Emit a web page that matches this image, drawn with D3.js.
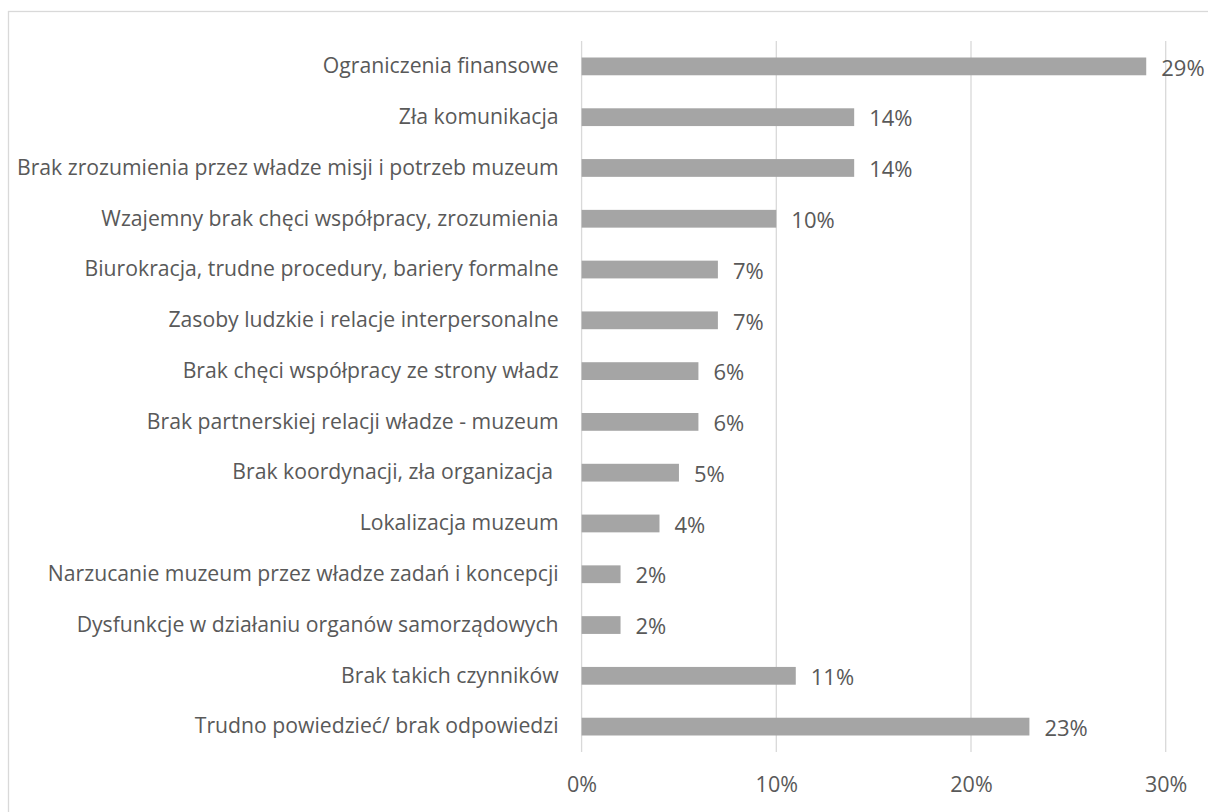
<!DOCTYPE html>
<html>
<head>
<meta charset="utf-8">
<script src="https://cdn.jsdelivr.net/npm/d3@7"></script>
<style>
  body { margin: 0; background: #fff; }
  svg text { font-family: "Open Sans", sans-serif; fill: #595959; white-space: pre; }
</style>
</head>
<body>
<div id="chart"></div>
<script>
// dane
var categories = [
  "Ograniczenia finansowe",
  "Zła komunikacja",
  "Brak zrozumienia przez władze misji i potrzeb muzeum",
  "Wzajemny brak chęci współpracy, zrozumienia",
  "Biurokracja, trudne procedury, bariery formalne",
  "Zasoby ludzkie i relacje interpersonalne",
  "Brak chęci współpracy ze strony władz",
  "Brak partnerskiej relacji władze - muzeum",
  "Brak koordynacji, zła organizacja ",
  "Lokalizacja muzeum",
  "Narzucanie muzeum przez władze zadań i koncepcji",
  "Dysfunkcje w działaniu organów samorządowych",
  "Brak takich czynników",
  "Trudno powiedzieć/ brak odpowiedzi"
];
var values = [29, 14, 14, 10, 7, 7, 6, 6, 5, 4, 2, 2, 11, 23];
var xTicks = [0, 10, 20, 30];

var width = 1208, height = 812;
var plotLeft = 581.6, plotRight = 1165.7, plotTop = 41, plotBottom = 752;

var svg = d3.select('#chart')
  .append('svg')
  .attr('width', width)
  .attr('height', height);

// ramka
svg.append('rect')
  .attr('x', 8.5).attr('y', 11.5)
  .attr('width', width + 10).attr('height', height + 10)
  .attr('fill', 'none')
  .attr('stroke', '#d9d9d9')
  .attr('stroke-width', 1.3);

var xScale = d3.scaleLinear().domain([0, 30]).range([plotLeft, plotRight]);
var yScale = d3.scaleBand().domain(categories).range([plotTop, plotBottom]).paddingInner(0.65).paddingOuter(0.325);

// linie siatki
svg.append('g')
  .selectAll('line')
  .data(xTicks)
  .enter()
  .append('line')
  .attr('x1', function (d) { return xScale(d); })
  .attr('x2', function (d) { return xScale(d); })
  .attr('y1', plotTop)
  .attr('y2', plotBottom)
  .attr('stroke', '#d9d9d9')
  .attr('stroke-width', 1.3);

// os X
var xAxis = svg.append('g')
  .attr('transform', 'translate(0,' + plotBottom + ')')
  .call(d3.axisBottom(xScale).tickValues(xTicks).tickSize(0).tickPadding(25).tickFormat(function (d) { return d + '%'; }));
xAxis.select('.domain').remove();
xAxis.selectAll('text').style('font-size', '21.5px').attr('fill', '#595959');

// os Y
var yAxis = svg.append('g')
  .attr('transform', 'translate(' + plotLeft + ',0)')
  .call(d3.axisLeft(yScale).tickSize(0).tickPadding(23));
yAxis.select('.domain').remove();
yAxis.selectAll('text').style('font-size', '21.2px').attr('fill', '#595959');

// slupki
svg.selectAll('.bar')
  .data(values)
  .enter()
  .append('rect')
  .attr('class', 'bar')
  .attr('x', xScale(0))
  .attr('y', function (d, i) { return yScale(categories[i]); })
  .attr('width', function (d) { return xScale(d) - xScale(0); })
  .attr('height', yScale.bandwidth())
  .attr('fill', '#a5a5a5');

// etykiety wartosci
svg.selectAll('.val')
  .data(values)
  .enter()
  .append('text')
  .attr('class', 'val')
  .attr('x', function (d) { return xScale(d) + 15; })
  .attr('y', function (d, i) { return yScale(categories[i]) + yScale.bandwidth() / 2 + 1.5; })
  .attr('dy', '0.35em')
  .style('font-size', '22px')
  .text(function (d) { return d + '%'; });
</script>
</body>
</html>
